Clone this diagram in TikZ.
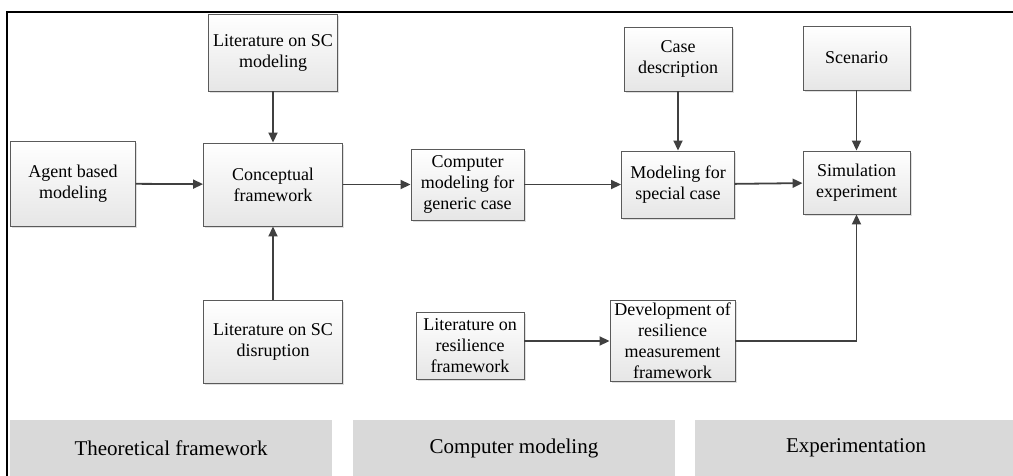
\documentclass[tikz,border=0pt]{standalone}
\usepackage{fontspec}
\setmainfont{Liberation Serif}
\usetikzlibrary{arrows.meta,shadows}

\definecolor{linegray}{HTML}{404040}
\definecolor{boxgray}{HTML}{5A5A5A}
\definecolor{boxshade}{HTML}{E6E6E6}
\definecolor{bandgray}{HTML}{D9D9D9}

\begin{document}
\begin{tikzpicture}[->,>={Triangle[length=10pt,width=9pt]},x=1pt,y=-1pt,
		font=\fontsize{18}{21}\selectfont]
		\tikzstyle{box}=[draw=boxgray,line width=0.9pt,top color=white,bottom color=boxshade,
			drop shadow={shadow xshift=1.5pt,shadow yshift=-1.5pt,opacity=0.25},
			align=center,inner sep=1pt]
		\tikzstyle{band}=[fill=bandgray,minimum width=322pt,minimum height=56pt,
			font=\fontsize{21}{25}\selectfont]
		\tikzstyle{every edge}=[draw,line width=1.8pt,linegray]

		\useasboundingbox (0,0) rectangle (1013,475);
		\clip (0,0) rectangle (1013,475);

		% outer frame
		\draw[-,line width=2pt] (7,476) -- (7,11.5) -- (1014,11.5);

		% phases
		\node[band] (theory) at (171,448) {Theoretical framework};
		\node[band] (compmod) at (514,448) {Computer modeling};
		\node[band] (exper) at (856,448) {Experimentation};

		% theoretical framework
		\node[box,minimum width=129pt,minimum height=77pt] (litmod) at (273,52.5) {Literature on SC\\modeling};
		\node[box,minimum width=125pt,minimum height=85pt] (agent) at (73,183.5) {Agent based\\modeling};
		\node[box,minimum width=139pt,minimum height=83pt] (concept) at (273,184.5) {Conceptual\\framework};
		\node[box,minimum width=139pt,minimum height=83pt] (disrupt) at (273,342) {Literature on SC\\disruption};

		% computer modeling
		\node[box,minimum width=113pt,minimum height=71pt] (generic) at (467.5,184.5) {Computer\\modeling for\\generic case};
		\node[box,minimum width=108pt,minimum height=64pt] (casedesc) at (678,59) {Case\\description};
		\node[box,minimum width=113pt,minimum height=67pt] (special) at (678,184.5) {Modeling for\\special case};
		\node[box,minimum width=108pt,minimum height=67pt] (litres) at (470,345.5) {Literature on\\resilience\\framework};
		\node[box,minimum width=125pt,minimum height=81pt] (devel) at (672.5,341) {Development of\\resilience\\measurement\\framework};

		% experimentation
		\node[box,minimum width=107pt,minimum height=64pt] (scenario) at (856.5,58) {Scenario};
		\node[box,minimum width=107pt,minimum height=63pt] (sim) at (856.5,182.5) {Simulation\\experiment};

		\path (litmod) edge (concept);
		\path (agent) edge (concept);
		\path (disrupt) edge (concept);
		\path (concept) edge (generic);
		\path (generic) edge (special);
		\path (casedesc) edge (special);
		\path (special) edge (sim);
		\path (scenario) edge (sim);
		\path (litres.east |- devel.west) edge (devel.west);
		\draw[line width=1.8pt,linegray] (devel.east) -| (sim.south);
\end{tikzpicture}
\end{document}
